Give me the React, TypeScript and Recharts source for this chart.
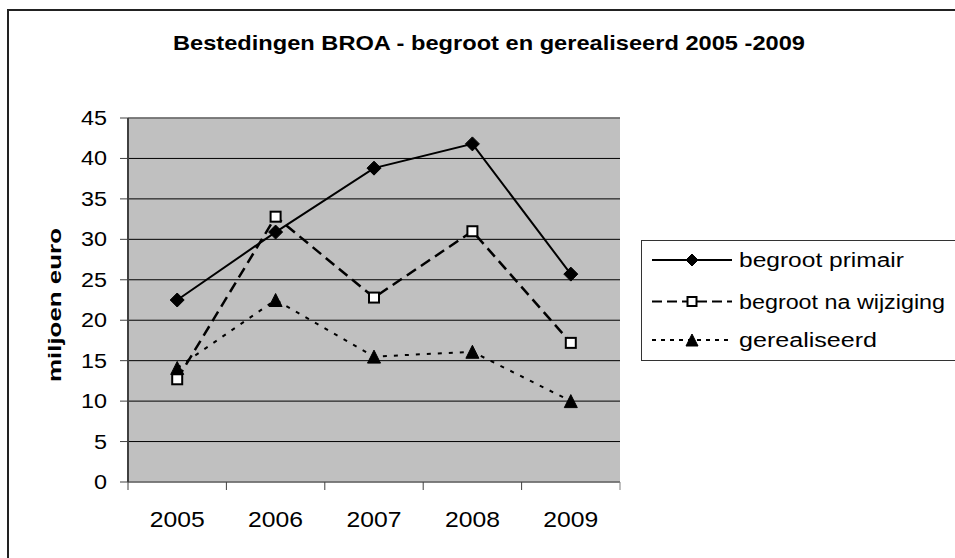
import React from 'react';
import { LineChart, Line, XAxis, YAxis, CartesianGrid, ReferenceLine } from 'recharts';

const years = ['2005', '2006', '2007', '2008', '2009'];
const begrootPrimair = [22.5, 30.9, 38.8, 41.8, 25.7];
const begrootNaWijziging = [12.7, 32.8, 22.8, 31.0, 17.2];
const gerealiseerd = [14.1, 22.5, 15.5, 16.1, 10.0];
const yTicks = [0, 5, 10, 15, 20, 25, 30, 35, 40, 45];
const seriesNames = ['begroot primair', 'begroot na wijziging', 'gerealiseerd'];
const titleText = 'Bestedingen BROA - begroot en gerealiseerd 2005 -2009';
const yLabelText = 'miljoen euro';

const data = years.map((y, i) => ({
  year: y,
  primair: begrootPrimair[i],
  wijziging: begrootNaWijziging[i],
  gerealiseerd: gerealiseerd[i],
}));

const W = 955;
const H = 558;
const M = { top: 118, right: 335, bottom: 46, left: 0 };
const Y_AXIS_W = 128;
const X_AXIS_H = 30;
const PLOT_LEFT = M.left + Y_AXIS_W;
const PLOT_RIGHT = W - M.right;
const PLOT_BOTTOM = H - M.bottom - X_AXIS_H;
const BAND = (PLOT_RIGHT - PLOT_LEFT) / years.length;
const FONT = 'Arial, "Liberation Sans", sans-serif';

const Diamond = (props: any) => {
  const { cx, cy, index, r = 7 } = props;
  if (cx == null || cy == null) return <g key={`d${index}`} />;
  return (
    <path
      key={`d${index}`}
      d={`M${cx},${cy - r} L${cx + r},${cy} L${cx},${cy + r} L${cx - r},${cy} Z`}
      fill="#000"
      stroke="#000"
      strokeWidth={1}
    />
  );
};

const Square = (props: any) => {
  const { cx, cy, index, s = 10 } = props;
  if (cx == null || cy == null) return <g key={`s${index}`} />;
  return (
    <rect key={`s${index}`} x={cx - s / 2} y={cy - s / 2} width={s} height={s} fill="#fff" stroke="#000" strokeWidth={2} />
  );
};

const Triangle = (props: any) => {
  const { cx, cy, index, w = 13, h = 13 } = props;
  if (cx == null || cy == null) return <g key={`t${index}`} />;
  return (
    <path
      key={`t${index}`}
      d={`M${cx},${cy - h / 2} L${cx + w / 2},${cy + h / 2} L${cx - w / 2},${cy + h / 2} Z`}
      fill="#000"
      stroke="#000"
      strokeWidth={1}
    />
  );
};

const YTick = (props: any) => {
  const { x, y, payload } = props;
  const s = String(payload.value);
  return (
    <text
      x={x}
      y={y}
      textAnchor="end"
      dominantBaseline="central"
      fontFamily={FONT}
      fontSize={20}
      fill="#000"
      textLength={s.length * 13}
      lengthAdjust="spacingAndGlyphs"
    >
      {s}
    </text>
  );
};

const XTick = (props: any) => {
  const { x, payload, index } = props;
  const s = String(payload.value);
  const bx = x - BAND / 2;
  return (
    <g>
      <line x1={bx} y1={PLOT_BOTTOM} x2={bx} y2={PLOT_BOTTOM + 8} stroke="#404040" strokeWidth={1} />
      {index === years.length - 1 && (
        <line x1={x + BAND / 2} y1={PLOT_BOTTOM} x2={x + BAND / 2} y2={PLOT_BOTTOM + 8} stroke="#808080" strokeWidth={1} />
      )}
      <text
        x={x}
        y={519}
        textAnchor="middle"
        dominantBaseline="central"
        fontFamily={FONT}
        fontSize={22}
        fill="#000"
        textLength={55}
        lengthAdjust="spacingAndGlyphs"
      >
        {s}
      </text>
    </g>
  );
};

const legendWidths = [165, 206, 138];

const LegendBox = () => {
  const rows = [20, 61.5, 100];
  return (
    <g transform="translate(641,240)">
      <rect x={0.5} y={0.5} width={340} height={120} fill="#fff" stroke="#333" strokeWidth={1} />
      <line x1={11} y1={rows[0]} x2={91} y2={rows[0]} stroke="#000" strokeWidth={2} />
      <Diamond cx={51} cy={rows[0]} index={0} r={6} />
      <line x1={11} y1={rows[1]} x2={91} y2={rows[1]} stroke="#000" strokeWidth={2} strokeDasharray="10 5" />
      <Square cx={51} cy={rows[1]} index={1} s={9} />
      <line x1={11} y1={rows[2]} x2={91} y2={rows[2]} stroke="#000" strokeWidth={2} strokeDasharray="4 5" />
      <Triangle cx={51} cy={rows[2]} index={2} w={12} h={12} />
      {seriesNames.map((n, i) => (
        <text
          key={n}
          x={98}
          y={rows[i]}
          dominantBaseline="central"
          fontFamily={FONT}
          fontSize={20}
          fill="#000"
          textLength={legendWidths[i]}
          lengthAdjust="spacingAndGlyphs"
        >
          {n}
        </text>
      ))}
    </g>
  );
};

export default function App() {
  return (
    <div style={{ position: 'absolute', left: 0, top: 0, width: W, height: H, background: '#fff', overflow: 'hidden' }}>
      <div
        style={{
          position: 'absolute',
          left: 7,
          top: 9,
          width: W,
          height: H,
          borderLeft: '2px solid #222',
          borderTop: '2px solid #222',
          boxSizing: 'border-box',
        }}
      />
      <div style={{ position: 'absolute', left: 0, top: 0 }}>
        <LineChart width={W} height={H} data={data} margin={M}>
          <CartesianGrid vertical={false} stroke="#000" strokeWidth={1} fill="#C0C0C0" fillOpacity={1} />
          <XAxis
            dataKey="year"
            height={X_AXIS_H}
            tickLine={false}
            axisLine={{ stroke: '#808080', strokeWidth: 1.5 }}
            tick={<XTick />}
            interval={0}
            padding={{ left: BAND / 2, right: BAND / 2 }}
          />
          <YAxis
            width={Y_AXIS_W}
            domain={[0, 45]}
            ticks={yTicks}
            interval={0}
            tickSize={8}
            tickMargin={13}
            tickLine={{ stroke: '#404040' }}
            axisLine={{ stroke: '#404040', strokeWidth: 2 }}
            tick={<YTick />}
          />
          <YAxis
            yAxisId="r"
            orientation="right"
            width={0}
            domain={[0, 45]}
            tick={false}
            tickLine={false}
            axisLine={{ stroke: '#808080', strokeWidth: 1.5 }}
          />
          <ReferenceLine y={45} stroke="#808080" strokeWidth={1.5} />
          <Line
            dataKey="primair"
            name={seriesNames[0]}
            stroke="#000"
            strokeWidth={2}
            dot={(p: any) => <Diamond {...p} r={7} />}
            activeDot={false}
            isAnimationActive={false}
          />
          <Line
            dataKey="wijziging"
            name={seriesNames[1]}
            stroke="#000"
            strokeWidth={2.5}
            strokeDasharray="11 6"
            dot={(p: any) => <Square {...p} s={10} />}
            activeDot={false}
            isAnimationActive={false}
          />
          <Line
            dataKey="gerealiseerd"
            name={seriesNames[2]}
            stroke="#000"
            strokeWidth={2}
            strokeDasharray="4 7"
            dot={(p: any) => <Triangle {...p} w={13} h={13} />}
            activeDot={false}
            isAnimationActive={false}
          />
        </LineChart>
      </div>
      <svg width={W} height={H} style={{ position: 'absolute', left: 0, top: 0, pointerEvents: 'none' }}>
        <LegendBox />
        <text
          x={489}
          y={50}
          textAnchor="middle"
          fontFamily={FONT}
          fontWeight="bold"
          fontSize={21}
          fill="#000"
          textLength={632}
          lengthAdjust="spacingAndGlyphs"
        >
          {titleText}
        </text>
        <text
          x={54}
          y={305}
          textAnchor="middle"
          dominantBaseline="central"
          transform="rotate(-90 54 305)"
          fontFamily={FONT}
          fontWeight="bold"
          fontSize={19}
          fill="#000"
          textLength={154}
          lengthAdjust="spacingAndGlyphs"
        >
          {yLabelText}
        </text>
      </svg>
    </div>
  );
}
